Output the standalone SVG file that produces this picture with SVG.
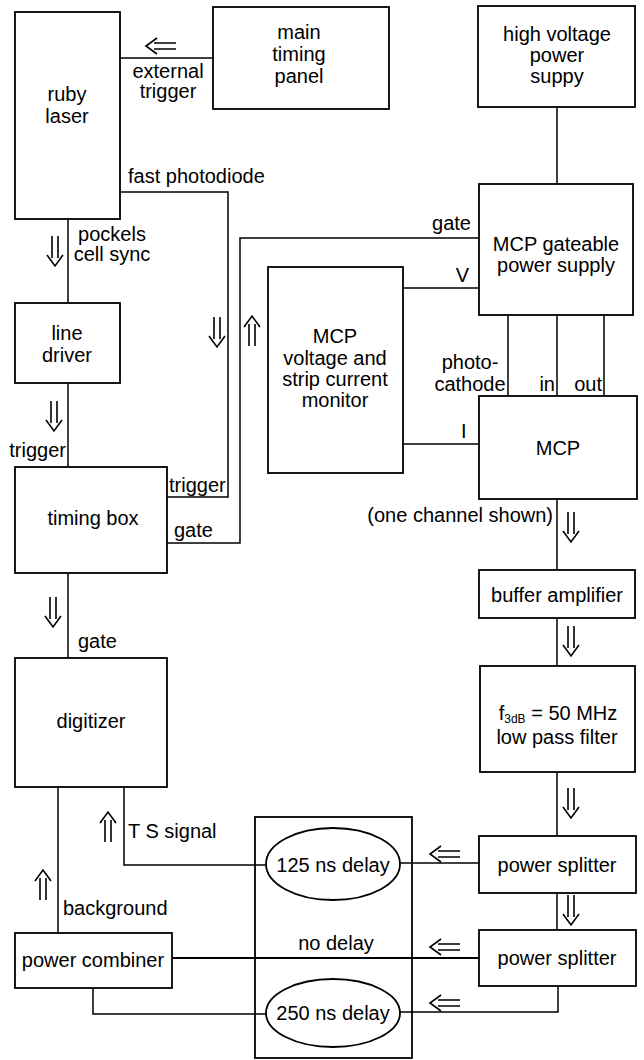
<svg xmlns="http://www.w3.org/2000/svg" xmlns:xlink="http://www.w3.org/1999/xlink" width="644" height="1060" viewBox="0 0 644 1060">
<style>
  .box{fill:none;stroke:#000;stroke-width:1.8}
  .ln{fill:none;stroke:#000;stroke-width:1.5}
  .thick{stroke-width:2.2}
  .arr{fill:none;stroke:#000;stroke-width:1.6;stroke-linejoin:miter}
  text{font-family:"Liberation Sans",Arial,Helvetica,sans-serif;font-size:20px;fill:#000}
  .c{text-anchor:middle}
  .e{text-anchor:end}
</style>
<defs>
  <symbol id="dd" overflow="visible">
    <path class="arr" d="M-3,-15 V7 M3,-15 V7 M-8,4 L0,15 L8,4"/>
  </symbol>
</defs>
<rect width="644" height="1060" fill="#fff"/>

<g id="connectors">
  <path class="ln" d="M120,58 H213"/>
  <path class="ln" d="M120,192 H228 V497 H167"/>
  <path class="ln" d="M68,219 V303"/>
  <path class="ln" d="M68,383 V467"/>
  <path class="ln" d="M167,543 H240 V238 H479"/>
  <path class="ln" d="M557,107 V184"/>
  <path class="ln" d="M403,288 H479"/>
  <path class="ln" d="M508,315 V396 M557,315 V396 M604,315 V396"/>
  <path class="ln" d="M403,444 H479"/>
  <path class="ln" d="M557,499 V570"/>
  <path class="ln" d="M557,618 V666"/>
  <path class="ln" d="M557,772 V836"/>
  <path class="ln" d="M557,893 V930"/>
  <path class="ln" d="M479,863 H400"/>
  <path class="ln" d="M267,865 H124 V787"/>
  <path class="ln" d="M68,573 V658"/>
  <path class="ln" d="M58,787 V933"/>
  <path class="ln thick" d="M479,958 H172"/>
  <path class="ln" d="M558,986 V1012 H400"/>
  <path class="ln" d="M267,1014 H93 V988"/>
  <!-- arrows -->
  <use xlink:href="#dd" href="#dd" transform="translate(161,46) rotate(90)"/>
  <use xlink:href="#dd" href="#dd" transform="translate(55,251)"/>
  <use xlink:href="#dd" href="#dd" transform="translate(54,416)"/>
  <use xlink:href="#dd" href="#dd" transform="translate(217,332)"/>
  <use xlink:href="#dd" href="#dd" transform="translate(252,331) rotate(180)"/>
  <use xlink:href="#dd" href="#dd" transform="translate(53,612)"/>
  <use xlink:href="#dd" href="#dd" transform="translate(108,827) rotate(180)"/>
  <use xlink:href="#dd" href="#dd" transform="translate(43,885) rotate(180)"/>
  <use xlink:href="#dd" href="#dd" transform="translate(571,527)"/>
  <use xlink:href="#dd" href="#dd" transform="translate(571,641)"/>
  <use xlink:href="#dd" href="#dd" transform="translate(571,803)"/>
  <use xlink:href="#dd" href="#dd" transform="translate(571,910)"/>
  <use xlink:href="#dd" href="#dd" transform="translate(445,854) rotate(90)"/>
  <use xlink:href="#dd" href="#dd" transform="translate(445,947) rotate(90)"/>
  <use xlink:href="#dd" href="#dd" transform="translate(445,1003) rotate(90)"/>
  <!-- connector labels -->
  <text class="c" x="168" y="78">external</text>
  <text class="c" x="168" y="98">trigger</text>
  <text x="128" y="183">fast photodiode</text>
  <text class="c" x="112" y="241">pockels</text>
  <text class="c" x="112" y="261">cell sync</text>
  <text class="e" x="66" y="457">trigger</text>
  <text x="169" y="492">trigger</text>
  <text x="174" y="537">gate</text>
  <text x="78" y="648">gate</text>
  <text class="e" x="471" y="230">gate</text>
  <text class="e" x="469" y="282">V</text>
  <text class="c" x="470" y="369">photo-</text>
  <text class="c" x="470" y="391">cathode</text>
  <text class="e" x="555" y="391">in</text>
  <text class="e" x="602" y="391">out</text>
  <text x="461" y="438">I</text>
  <text class="e" x="553" y="522">(one channel shown)</text>
  <text x="128" y="838">T S signal</text>
  <text x="63" y="915">background</text>
  <text class="c" x="336" y="950">no delay</text>
</g>

<g id="ruby-laser">
  <rect class="box" x="15" y="12" width="105" height="207"/>
  <text class="c" x="67" y="101">ruby</text>
  <text class="c" x="67" y="123">laser</text>
</g>
<g id="main-timing-panel">
  <rect class="box" x="213" y="7" width="176" height="102"/>
  <text class="c" x="299" y="39">main</text>
  <text class="c" x="299" y="61">timing</text>
  <text class="c" x="299" y="83">panel</text>
</g>
<g id="hv-power-supply">
  <rect class="box" x="478" y="6" width="157" height="101"/>
  <text class="c" x="557" y="41">high voltage</text>
  <text class="c" x="557" y="62">power</text>
  <text class="c" x="557" y="83">suppy</text>
</g>
<g id="mcp-gateable">
  <rect class="box" x="479" y="184" width="154" height="131"/>
  <text class="c" x="556" y="251">MCP gateable</text>
  <text class="c" x="556" y="272">power supply</text>
</g>
<g id="monitor">
  <rect class="box" x="268" y="267" width="135" height="206"/>
  <text class="c" x="335" y="343">MCP</text>
  <text class="c" x="335" y="365">voltage and</text>
  <text class="c" x="335" y="386">strip current</text>
  <text class="c" x="335" y="407">monitor</text>
</g>
<g id="line-driver">
  <rect class="box" x="15" y="303" width="105" height="80"/>
  <text class="c" x="67" y="340">line</text>
  <text class="c" x="67" y="362">driver</text>
</g>
<g id="timing-box">
  <rect class="box" x="15" y="467" width="152" height="106"/>
  <text class="c" x="93" y="525">timing box</text>
</g>
<g id="mcp">
  <rect class="box" x="479" y="396" width="158" height="103"/>
  <text class="c" x="558" y="455">MCP</text>
</g>
<g id="buffer-amplifier">
  <rect class="box" x="479" y="570" width="156" height="48"/>
  <text class="c" x="557" y="602">buffer amplifier</text>
</g>
<g id="filter">
  <rect class="box" x="480" y="666" width="155" height="106"/>
  <text class="c" x="558" y="720">f<tspan font-size="12" dy="3">3dB</tspan><tspan dy="-3"> = 50 MHz</tspan></text>
  <text class="c" x="557" y="744">low pass filter</text>
</g>
<g id="digitizer">
  <rect class="box" x="15" y="658" width="152" height="129"/>
  <text class="c" x="91" y="728">digitizer</text>
</g>
<g id="power-splitter-1">
  <rect class="box" x="479" y="836" width="157" height="57"/>
  <text class="c" x="557" y="872">power splitter</text>
</g>
<g id="power-splitter-2">
  <rect class="box" x="479" y="930" width="157" height="56"/>
  <text class="c" x="557" y="965">power splitter</text>
</g>
<g id="power-combiner">
  <rect class="box" x="15" y="933" width="157" height="55"/>
  <text class="c" x="93" y="967">power combiner</text>
</g>
<g id="delay-unit">
  <rect class="box" x="255" y="817" width="157" height="241"/>
</g>
<g id="delay-125">
  <ellipse class="box" cx="333" cy="864" rx="67" ry="36" fill="#fff"/>
  <text class="c" x="333" y="872">125 ns delay</text>
</g>
<g id="delay-250">
  <ellipse class="box" cx="333" cy="1013" rx="67" ry="34" fill="#fff"/>
  <text class="c" x="333" y="1020">250 ns delay</text>
</g>
</svg>
